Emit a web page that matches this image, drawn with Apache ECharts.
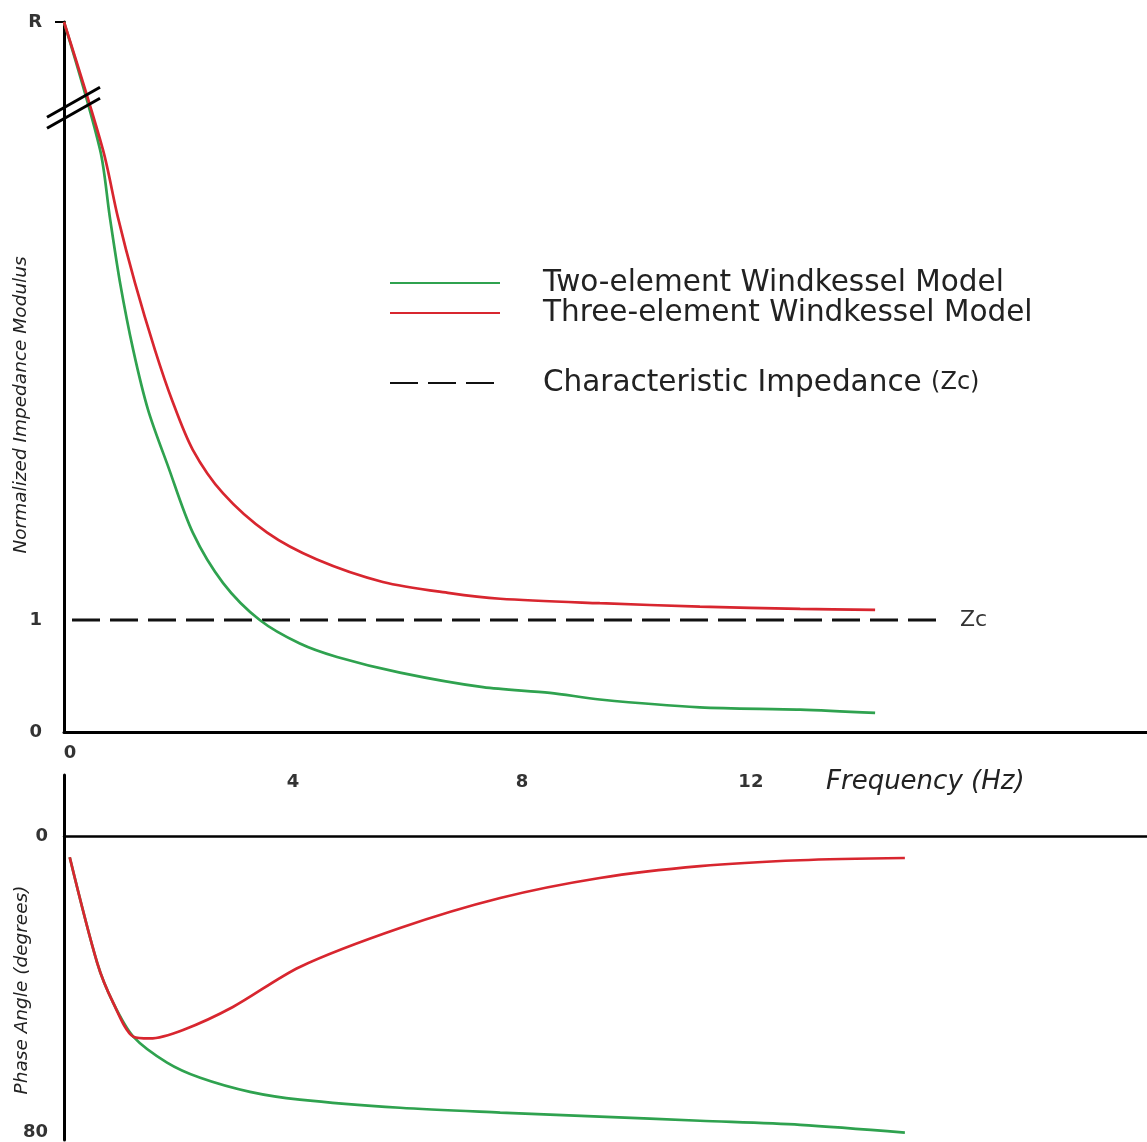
<!DOCTYPE html>
<html>
<head>
<meta charset="utf-8">
<title>Windkessel impedance</title>
<script src="https://cdn.jsdelivr.net/npm/echarts@6/dist/echarts.min.js"></script>
<style>
	html,body{margin:0;padding:0;background:#fff;}
	#main{width:1147px;height:1142px;}
</style>
</head>
<body>
<div id="main"></div>
<script>
//axis ranges
var X_MAX = 18.92;
var Y_TOP = 6.34;		//value of "R" at top of broken axis
var BREAK_AT = 5.57;	//where the // marks sit
var PHASE_MIN = -16.5, PHASE_MAX = 82;
var ZC = 1;

//impedance modulus (display units, above break compressed)
var twoFreq    = [0, 0.63, 0.80, 0.98, 1.21, 1.47, 1.82, 2.25, 2.78, 3.42, 4.12, 4.77, 5.87, 7.32, 8.49, 9.36, 11.11, 12.86, 14.17];
var twoModulus = [6.34, 5.20, 4.60, 4.01, 3.41, 2.875, 2.37, 1.78, 1.33, 1.00, 0.79, 0.67, 0.53, 0.40, 0.35, 0.29, 0.22, 0.20, 0.17];
var threeFreq    = [0, 0.68, 0.94, 1.24, 1.59, 1.89, 2.25, 2.78, 3.55, 4.42, 5.57, 6.74, 7.62, 9.36, 11.11, 12.86, 14.17];
var threeModulus = [6.34, 5.20, 4.60, 4.01, 3.41, 2.96, 2.52, 2.13, 1.78, 1.54, 1.34, 1.24, 1.19, 1.15, 1.12, 1.10, 1.09];
var zcFreq = [0.14, 15.39];

//phase angle (degrees, drawn downward)
var twoPhaseFreq = [0.10, 0.58, 0.86, 1.21, 1.80, 2.38, 3.25, 4.12, 5.87, 7.62, 9.36, 11.11, 12.86, 14.69];
var twoPhase     = [5.7, 34.2, 45.0, 54.1, 61.1, 65.2, 69.0, 71.1, 73.3, 74.6, 75.7, 76.8, 77.9, 80.0];
var threePhaseFreq = [0.10, 0.58, 0.86, 1.21, 1.50, 2.08, 2.95, 4.12, 5.87, 7.62, 9.36, 11.11, 12.86, 14.69];
var threePhase     = [5.7, 34.2, 45.0, 54.1, 54.6, 52.3, 46.1, 35.3, 24.8, 16.7, 11.3, 8.1, 6.5, 5.9];

//tick labels
var freqTicks = [4, 8, 12];
var modulusTicks = [0, 1, Y_TOP];
var phaseTicks = [0, 80];

var NAMES = ['Two-element Windkessel Model', 'Three-element Windkessel Model', 'Characteristic Impedance (Zc)'];
var GREEN = '#2fa24f', RED = '#d8262f', FONT = 'DejaVu Sans';

function zip(xs, ys){
	var out = [];
	for(var i = 0; i < xs.length; i++){
		out.push([xs[i], ys[i]]);
	}
	return out;
}

var tickText = {fontFamily: FONT, fontSize: 18, fontWeight: 'bold', color: '#333'};
var blackLine = function(w){ return {show: true, lineStyle: {color: '#000', width: w}}; };
var legendBase = {
	orient: 'vertical', left: 389, padding: 0,
	itemWidth: 110, itemHeight: 14, itemGap: 0,
	itemStyle: {opacity: 0},
	formatter: function(name){ return '{gap|}' + name.replace('(Zc)', '{s|(Zc)}'); },
	textStyle: {fontFamily: FONT, fontSize: 29.5, color: '#222', rich: {gap: {width: 38}, s: {fontSize: 24}}}
};
var curve = function(name, color, axis, xs, ys){
	return {
		name: name, type: 'line', xAxisIndex: axis, yAxisIndex: axis,
		data: zip(xs, ys), symbol: 'none', smooth: 0.3,
		color: color, lineStyle: {color: color, width: 2.7}
	};
};

var chart = echarts.init(document.getElementById('main'));
var option = {
	animation: false,
	backgroundColor: '#fff',
	grid: [
		{left: 64, right: 0, top: 22, bottom: 410, outerBoundsMode: 'none'},
		{left: 64, right: 0, top: 775, bottom: 2, outerBoundsMode: 'none'}
	],
	legend: [
		Object.assign({data: NAMES.slice(0, 2), top: 268}, legendBase),
		Object.assign({data: NAMES.slice(2), top: 368}, legendBase)
	],
	xAxis: [
		{
			gridIndex: 0, type: 'value', min: 0, max: X_MAX,
			axisLine: blackLine(3), axisTick: {show: false}, splitLine: {show: false},
			axisLabel: Object.assign({customValues: [0], margin: 12, padding: [0, 0, 0, 12]}, tickText)
		},
		{
			//labels stay at grid top, line sits on phase 0
			gridIndex: 1, type: 'value', min: 0, max: X_MAX, position: 'top',
			axisLine: {show: true, onZero: true, lineStyle: {color: '#000', width: 2.5}},
			axisTick: {show: false}, splitLine: {show: false},
			axisLabel: Object.assign({customValues: freqTicks, margin: -16}, tickText)
		}
	],
	yAxis: [
		{
			gridIndex: 0, type: 'value', min: 0, max: Y_TOP,
			axisLine: blackLine(3), splitLine: {show: false},
			axisTick: {show: true, customValues: [Y_TOP], length: 9, lineStyle: {color: '#000', width: 2}},
			axisLabel: Object.assign({
				customValues: modulusTicks, margin: 22,
				formatter: function(v){ return v === Y_TOP ? 'R' : String(v); }
			}, tickText)
		},
		{
			gridIndex: 1, type: 'value', min: PHASE_MIN, max: PHASE_MAX, inverse: true,
			axisLine: blackLine(3), axisTick: {show: false}, splitLine: {show: false},
			axisLabel: Object.assign({customValues: phaseTicks, margin: 16}, tickText)
		}
	],
	series: [
		{
			name: NAMES[2], type: 'line', xAxisIndex: 0, yAxisIndex: 0,
			data: zip(zcFreq, [ZC, ZC]), symbol: 'none', color: '#111',
			lineStyle: {color: '#111', width: 3, type: [28, 10]},
			endLabel: {show: true, formatter: 'Zc', distance: 15, fontFamily: FONT, fontSize: 22, color: '#333'}
		},
		curve(NAMES[0], GREEN, 0, twoFreq, twoModulus),
		curve(NAMES[1], RED, 0, threeFreq, threeModulus),
		curve(NAMES[0], GREEN, 1, twoPhaseFreq, twoPhase),
		curve(NAMES[1], RED, 1, threePhaseFreq, threePhase)
	]
};
chart.setOption(option);

//axis break marks and free text
var b = chart.convertToPixel({gridIndex: 0}, [0, BREAK_AT]);
var slash = function(id, dy){
	return {
		type: 'line', id: id, z: 100,
		shape: {x1: b[0] - 17, y1: b[1] + 9 + dy, x2: b[0] + 36, y2: b[1] - 21 + dy},
		style: {stroke: '#000', lineWidth: 3}
	};
};
var axisName = function(id, text, x, y){
	return {
		type: 'text', id: id, x: x, y: y, rotation: Math.PI / 2,
		style: {text: text, fontFamily: FONT, fontStyle: 'italic', fontSize: 18.5, fill: '#222', align: 'center', verticalAlign: 'middle'}
	};
};
chart.setOption({
	graphic: [
		slash('brk1', 0),
		slash('brk2', 11),
		axisName('yname1', 'Normalized Impedance Modulus', 21, 405),
		axisName('yname2', 'Phase Angle (degrees)', 22, 990),
		{
			type: 'text', id: 'xname', x: 826, y: 782,
			style: {text: 'Frequency (Hz)', fontFamily: FONT, fontStyle: 'italic', fontSize: 26, fill: '#222', verticalAlign: 'middle'}
		}
	]
});
</script>
</body>
</html>
